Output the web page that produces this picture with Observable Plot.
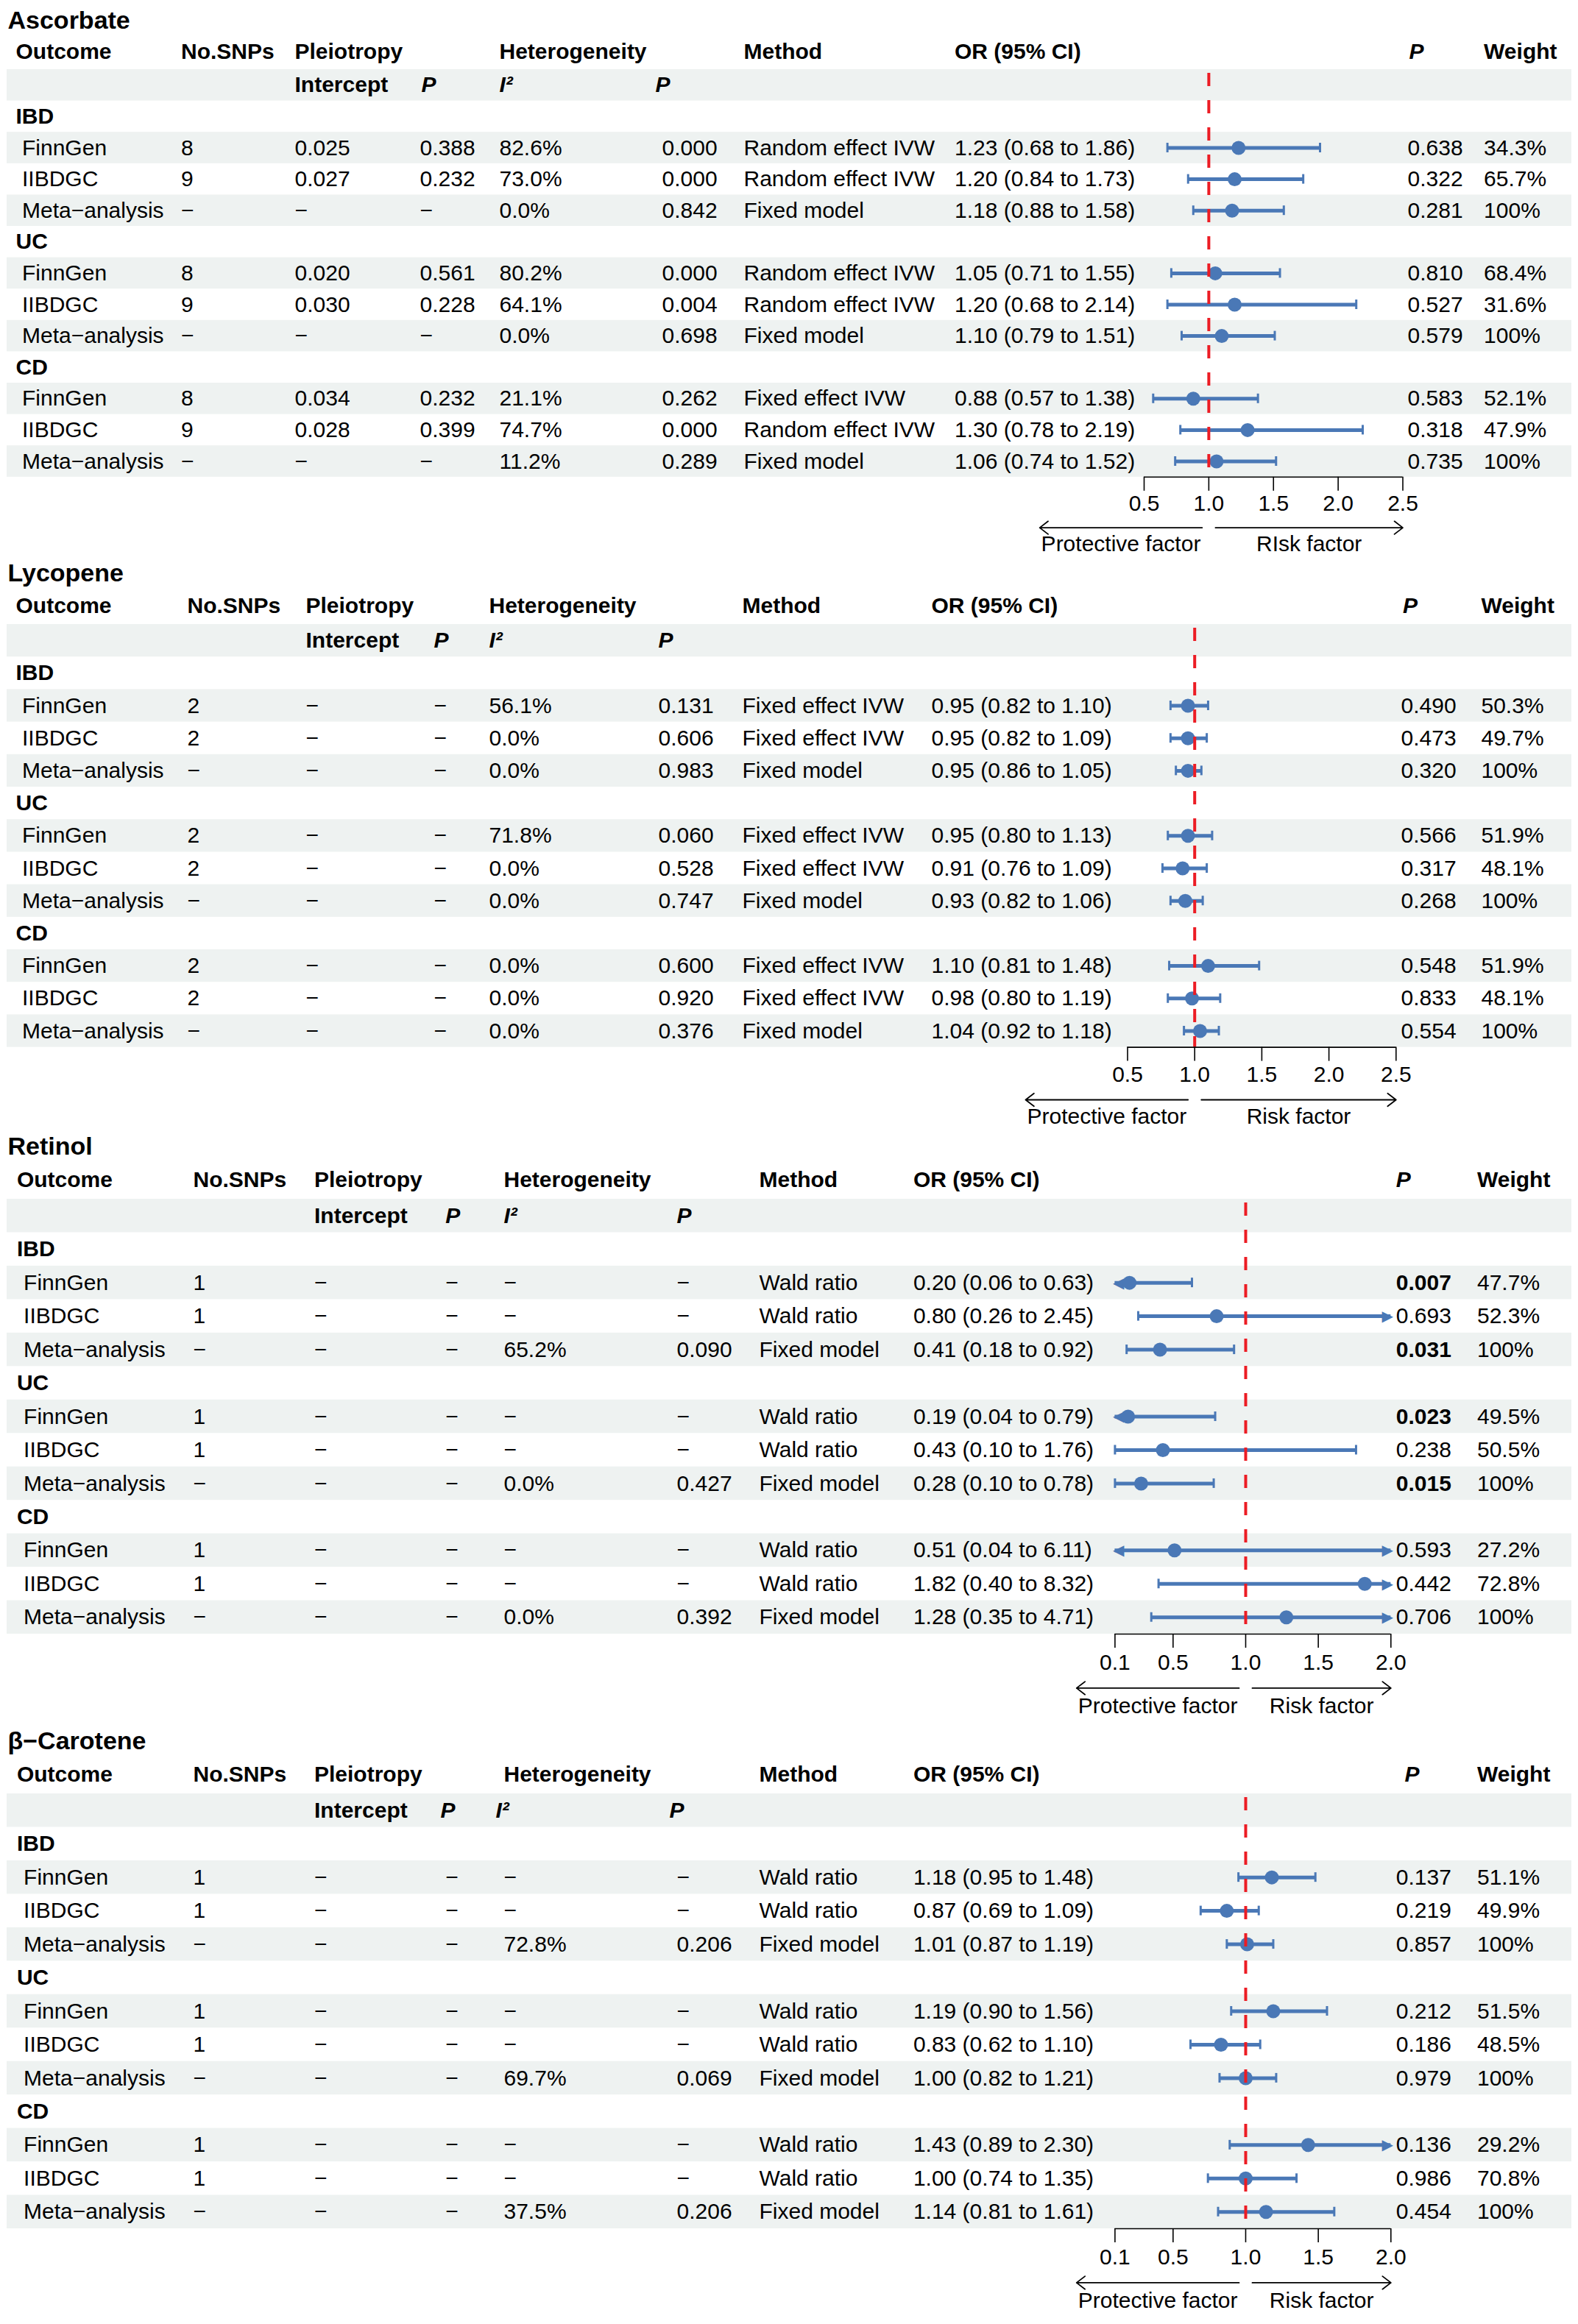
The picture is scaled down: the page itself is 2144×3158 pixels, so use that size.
<!DOCTYPE html>
<html>
<head>
<meta charset="utf-8">
<script src="https://cdn.jsdelivr.net/npm/d3@7"></script>
<script src="https://cdn.jsdelivr.net/npm/@observablehq/plot@0.6"></script>
<style>
  html, body { margin: 0; padding: 0; background: #fff; overflow: hidden; }
  #chart { width: 2144px; }
  #chart svg { display: block; }
</style>
</head>
<body>
<div id="chart"></div>
<script>
const FONT = '"Liberation Sans", Arial, Helvetica, sans-serif';
const D = "\u2212";

// ---------------- data ----------------
const exposures = ["Ascorbate", "Lycopene", "Retinol", "\u03b2\u2212Carotene"];
const outcomes = ["IBD", "UC", "CD"];
const sources = ["FinnGen", "IIBDGC", "Meta\u2212analysis"];

// 36 rows: exposure -> outcome -> source
const nSNPs = [
  "8","9",D, "8","9",D, "8","9",D,
  "2","2",D, "2","2",D, "2","2",D,
  "1","1",D, "1","1",D, "1","1",D,
  "1","1",D, "1","1",D, "1","1",D
];
const intercept = [
  "0.025","0.027",D, "0.020","0.030",D, "0.034","0.028",D,
  D,D,D, D,D,D, D,D,D,
  D,D,D, D,D,D, D,D,D,
  D,D,D, D,D,D, D,D,D
];
const pleioP = [
  "0.388","0.232",D, "0.561","0.228",D, "0.232","0.399",D,
  D,D,D, D,D,D, D,D,D,
  D,D,D, D,D,D, D,D,D,
  D,D,D, D,D,D, D,D,D
];
const i2 = [
  "82.6%","73.0%","0.0%", "80.2%","64.1%","0.0%", "21.1%","74.7%","11.2%",
  "56.1%","0.0%","0.0%", "71.8%","0.0%","0.0%", "0.0%","0.0%","0.0%",
  D,D,"65.2%", D,D,"0.0%", D,D,"0.0%",
  D,D,"72.8%", D,D,"69.7%", D,D,"37.5%"
];
const hetP = [
  "0.000","0.000","0.842", "0.000","0.004","0.698", "0.262","0.000","0.289",
  "0.131","0.606","0.983", "0.060","0.528","0.747", "0.600","0.920","0.376",
  D,D,"0.090", D,D,"0.427", D,D,"0.392",
  D,D,"0.206", D,D,"0.069", D,D,"0.206"
];
const RE = "Random effect IVW", FE = "Fixed effect IVW", FM = "Fixed model", WR = "Wald ratio";
const method = [
  RE,RE,FM, RE,RE,FM, FE,RE,FM,
  FE,FE,FM, FE,FE,FM, FE,FE,FM,
  WR,WR,FM, WR,WR,FM, WR,WR,FM,
  WR,WR,FM, WR,WR,FM, WR,WR,FM
];
const oddsRatio = [
  1.23,1.20,1.18, 1.05,1.20,1.10, 0.88,1.30,1.06,
  0.95,0.95,0.95, 0.95,0.91,0.93, 1.10,0.98,1.04,
  0.20,0.80,0.41, 0.19,0.43,0.28, 0.51,1.82,1.28,
  1.18,0.87,1.01, 1.19,0.83,1.00, 1.43,1.00,1.14
];
const lower = [
  0.68,0.84,0.88, 0.71,0.68,0.79, 0.57,0.78,0.74,
  0.82,0.82,0.86, 0.80,0.76,0.82, 0.81,0.80,0.92,
  0.06,0.26,0.18, 0.04,0.10,0.10, 0.04,0.40,0.35,
  0.95,0.69,0.87, 0.90,0.62,0.82, 0.89,0.74,0.81
];
const upper = [
  1.86,1.73,1.58, 1.55,2.14,1.51, 1.38,2.19,1.52,
  1.10,1.09,1.05, 1.13,1.09,1.06, 1.48,1.19,1.18,
  0.63,2.45,0.92, 0.79,1.76,0.78, 6.11,8.32,4.71,
  1.48,1.09,1.19, 1.56,1.10,1.21, 2.30,1.35,1.61
];
const pValue = [
  "0.638","0.322","0.281", "0.810","0.527","0.579", "0.583","0.318","0.735",
  "0.490","0.473","0.320", "0.566","0.317","0.268", "0.548","0.833","0.554",
  "0.007","0.693","0.031", "0.023","0.238","0.015", "0.593","0.442","0.706",
  "0.137","0.219","0.857", "0.212","0.186","0.979", "0.136","0.986","0.454"
];
const weight = [
  "34.3%","65.7%","100%", "68.4%","31.6%","100%", "52.1%","47.9%","100%",
  "50.3%","49.7%","100%", "51.9%","48.1%","100%", "51.9%","48.1%","100%",
  "47.7%","52.3%","100%", "49.5%","50.5%","100%", "27.2%","72.8%","100%",
  "51.1%","49.9%","100%", "51.5%","48.5%","100%", "29.2%","70.8%","100%"
];
const axisTicks = [
  [0.5, 1.0, 1.5, 2.0, 2.5],
  [0.5, 1.0, 1.5, 2.0, 2.5],
  [0.1, 0.5, 1.0, 1.5, 2.0],
  [0.1, 0.5, 1.0, 1.5, 2.0]
];
const axisDomains = [[0.5, 2.5], [0.5, 2.5], [0.1, 2.0], [0.1, 2.0]];
const arrowLabels = [
  ["Protective factor", "RIsk factor"],
  ["Protective factor", "Risk factor"],
  ["Protective factor", "Risk factor"],
  ["Protective factor", "Risk factor"]
];
const refValue = 1;

// ---------------- layout (pixels) ----------------
const layouts = [
  {h: 760, subTop: 94, rowH: 42.6, xr: [1554, 1905.5],
   c: {grp: 21, src: 29.5, snp: 245.5, int: 400, pP: 570, pPh: 572, i2: 678, i2h: 678, hP: 899, hPh: 890,
       method: 1010, or: 1296.5, p: 1912, ph: 1914, w: 2015.6}},
  {h: 770, subTop: 88, rowH: 44.2, xr: [1531.5, 1896.3],
   c: {grp: 21, src: 29.5, snp: 254, int: 415, pP: 589, pPh: 589, i2: 664, i2h: 664, hP: 894, hPh: 894,
       method: 1008, or: 1265, p: 1903, ph: 1905.5, w: 2012}},
  {h: 800, subTop: 99, rowH: 45.46, xr: [1514.4, 1889.3],
   c: {grp: 22.4, src: 31.6, snp: 262, int: 426.5, pP: 604.7, pPh: 604.7, i2: 684, i2h: 684, hP: 919, hPh: 919,
       method: 1031, or: 1240.4, p: 1896.3, ph: 1896.3, w: 2006.5}},
  {h: 828, subTop: 107, rowH: 45.46, xr: [1514.4, 1889.3],
   c: {grp: 22.4, src: 31.6, snp: 262, int: 426.5, pP: 604.7, pPh: 598, i2: 684, i2h: 673, hP: 919, hPh: 909,
       method: 1031, or: 1240.4, p: 1896.3, ph: 1908, w: 2006.5}}
];

const BLUE = "#4a78b6";
const RED = "#ec1c24";
const SHADE = "#eef2f1";
const FS = 30;

const canvas = document.createElement("canvas");
const ctx = canvas.getContext("2d");
ctx.font = `${FS}px ${FONT}`;
const textWidth = s => ctx.measureText(s).width;

const chart = document.getElementById("chart");

exposures.forEach((name, p) => {
  const L = layouts[p];
  const c = L.c;
  const [xmin, xmax] = axisDomains[p];
  const px = v => v / L.rowH; // pixels -> row units

  const rows = [];
  outcomes.forEach((o, g) => {
    sources.forEach((s, k) => {
      const i = p * 9 + g * 3 + k;
      rows.push({
        y: 3 + g * 4 + k, src: s, snp: nSNPs[i], int: intercept[i], pP: pleioP[i],
        i2: i2[i], hP: hetP[i], method: method[i],
        or: oddsRatio[i], lo: lower[i], hi: upper[i],
        orText: `${oddsRatio[i].toFixed(2)} (${lower[i].toFixed(2)} to ${upper[i].toFixed(2)})`,
        p: pValue[i], w: weight[i]
      });
    });
  });
  const groups = outcomes.map((o, g) => ({y: 2 + g * 4, label: o}));
  const shaded = [1, 3, 5, 7, 9, 11, 13];

  const txt = (data, key, dx, extra = {}) =>
    Plot.text(data, {y: "y", text: key, frameAnchor: "left", textAnchor: "start", dx,
                     fontSize: FS, fill: "#000", ...extra});

  const header = [
    ["Outcome", c.grp, false], ["No.SNPs", c.snp, false], ["Pleiotropy", c.int, false],
    ["Heterogeneity", c.i2, false], ["Method", c.method, false], ["OR (95% CI)", c.or, false],
    ["P", c.ph, true], ["Weight", c.w, false]
  ];
  const subheader = [["Intercept", c.int, false], ["P", c.pPh, true], ["I\u00b2", c.i2h, true], ["P", c.hPh, true]];

  const marks = [];
  marks.push(Plot.rect(shaded, {y1: d => d - 0.5, y2: d => d + 0.5, fill: SHADE, insetLeft: 9, insetRight: 9}));
  marks.push(Plot.text([name], {y: () => -1.07, text: d => d, frameAnchor: "left", textAnchor: "start",
                                dx: 10, fontSize: 34, fontWeight: "bold", fill: "#000"}));
  header.forEach(([t, x, it]) => marks.push(
    Plot.text([t], {y: () => 0, text: d => d, frameAnchor: "left", textAnchor: "start", dx: x, dy: -3,
                    fontSize: FS, fontWeight: "bold", fontStyle: it ? "italic" : "normal", fill: "#000"})));
  subheader.forEach(([t, x, it]) => marks.push(
    Plot.text([t], {y: () => 1, text: d => d, frameAnchor: "left", textAnchor: "start", dx: x,
                    fontSize: FS, fontWeight: "bold", fontStyle: it ? "italic" : "normal", fill: "#000"})));
  marks.push(txt(groups, "label", c.grp, {fontWeight: "bold"}));
  marks.push(txt(rows, "src", c.src));
  marks.push(txt(rows, "snp", c.snp));
  marks.push(txt(rows, "int", c.int));
  marks.push(txt(rows, "pP", c.pP));
  marks.push(txt(rows, "i2", c.i2));
  marks.push(txt(rows, "hP", c.hP));
  marks.push(txt(rows, "method", c.method));
  marks.push(txt(rows, "orText", c.or));
  marks.push(txt(rows.filter(d => +d.p >= 0.05), "p", c.p));
  marks.push(txt(rows.filter(d => +d.p < 0.05), "p", c.p, {fontWeight: "bold"}));
  marks.push(txt(rows, "w", c.w));

  // confidence intervals
  const capH = px(6.5);
  marks.push(Plot.ruleY(rows, {y: "y", x1: d => Math.max(d.lo, xmin), x2: d => Math.min(d.hi, xmax),
                               stroke: BLUE, strokeWidth: 5}));
  marks.push(Plot.ruleX(rows.filter(d => d.lo >= xmin), {x: "lo", y1: d => d.y - capH, y2: d => d.y + capH,
                                                         stroke: BLUE, strokeWidth: 3}));
  marks.push(Plot.ruleX(rows.filter(d => d.hi <= xmax), {x: "hi", y1: d => d.y - capH, y2: d => d.y + capH,
                                                         stroke: BLUE, strokeWidth: 3}));
  marks.push(Plot.text(rows.filter(d => d.lo < xmin), {x: () => xmin, y: "y", text: () => "\u25c0",
                       textAnchor: "start", dx: -3, fontSize: 20, fill: BLUE, fontFamily: "DejaVu Sans"}));
  marks.push(Plot.text(rows.filter(d => d.hi > xmax), {x: () => xmax, y: "y", text: () => "\u25b6",
                       textAnchor: "end", dx: 3, fontSize: 20, fill: BLUE, fontFamily: "DejaVu Sans"}));
  marks.push(Plot.dot(rows, {x: "or", y: "y", r: 9.5, fill: BLUE, stroke: "none"}));

  // reference line
  marks.push(Plot.ruleX([refValue], {x: d => d, y1: () => 0.5, y2: () => 13.5, stroke: RED, strokeWidth: 4,
                                     strokeDasharray: "18,19", strokeDashoffset: -5}));

  // axis
  const axisY = 13.5;
  const ticks = axisTicks[p];
  marks.push(Plot.ruleY([axisY], {y: d => d, x1: () => xmin, x2: () => xmax, stroke: "#000", strokeWidth: 1.6}));
  marks.push(Plot.ruleX(ticks, {x: d => d, y1: () => axisY, y2: () => axisY + px(19), stroke: "#000", strokeWidth: 1.6}));
  marks.push(Plot.text(ticks, {x: d => d, y: () => axisY + 1.07 - px(9.6), text: d => d.toFixed(1),
                               fontSize: FS, fill: "#000"}));

  // protective / risk arrows
  const sx = d3.scaleLinear().domain(axisDomains[p]).range(L.xr);
  const gap = 9;
  const refPx = sx(refValue);
  const [labL, labR] = arrowLabels[p];
  const lenL = Math.max(textWidth(labL) + 4, refPx - gap - L.xr[0]);
  const lenR = Math.max(textWidth(labR) + 4, L.xr[1] - refPx - gap);
  const arrows = [
    {x1: sx.invert(refPx - gap), x2: sx.invert(refPx - gap - lenL), label: labL},
    {x1: sx.invert(refPx + gap), x2: sx.invert(refPx + gap + lenR), label: labR}
  ];
  const arrowY = axisY + 1.615;
  marks.push(Plot.arrow(arrows, {x1: "x1", x2: "x2", y1: () => arrowY, y2: () => arrowY,
                                 stroke: "#000", strokeWidth: 1.8, headLength: 12, headAngle: 75}));
  marks.push(Plot.text(arrows, {x: d => (d.x1 + d.x2) / 2, y: () => axisY + 2.36 - px(9.6), text: "label",
                                fontSize: FS, fill: "#000"}));

  const svg = Plot.plot({
    width: 2144,
    height: L.h,
    marginLeft: 0, marginRight: 0, marginTop: 0, marginBottom: 0,
    x: {type: "linear", domain: axisDomains[p], range: L.xr, axis: null},
    y: {type: "linear", domain: [0.5, 13.5], range: [L.subTop, L.subTop + 13 * L.rowH], axis: null},
    style: {fontFamily: FONT, background: "#fff", overflow: "visible"},
    marks
  });
  chart.appendChild(svg);
});
</script>
</body>
</html>
